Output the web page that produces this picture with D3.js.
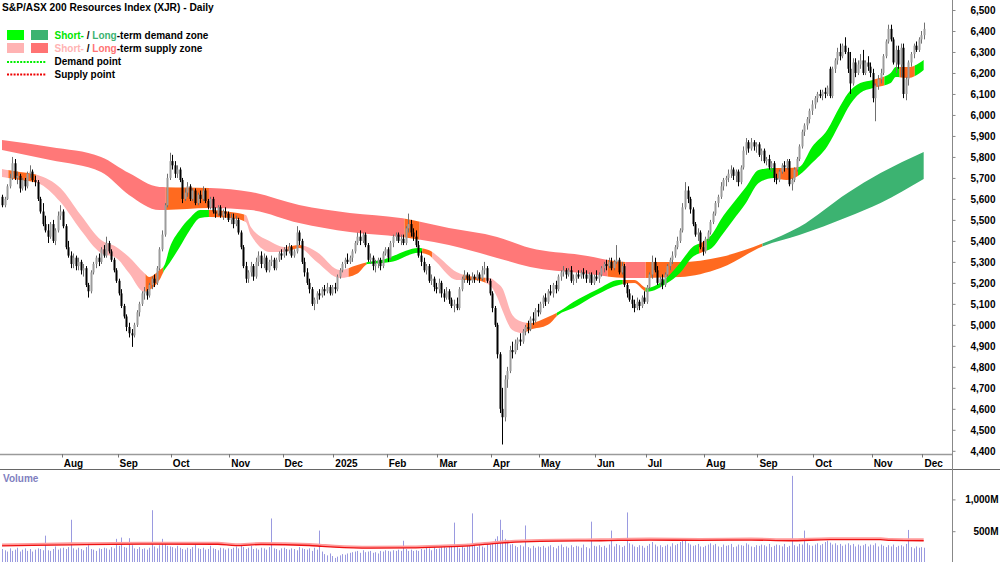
<!DOCTYPE html>
<html><head><meta charset="utf-8">
<script src="https://cdn.jsdelivr.net/npm/d3@7"></script>
<style>body{margin:0;background:#fff}svg{display:block;font-family:"Liberation Sans",Arial,sans-serif;font-weight:bold}</style>
</head><body><svg id="c" width="1000" height="562"></svg>
<script>
// ---------------- DATA ----------------
const title = "S&P/ASX 200 Resources Index (XJR) - Daily";
const firstDay = "2024-06-28", lastDay = "2025-12-01";
const holidays = ["2024-12-25","2024-12-26","2025-01-01","2025-01-27","2025-04-18","2025-04-21","2025-04-25","2025-06-09"];
const monthLabels = ["Aug","Sep","Oct","Nov","Dec","2025","Feb","Mar","Apr","May","Jun","Jul","Aug","Sep","Oct","Nov","Dec"];
const priceTicks = [4400,4500,4600,4700,4800,4900,5000,5100,5200,5300,5400,5500,5600,5700,5800,5900,6000,6100,6200,6300,6400,6500];
const volumeTicks = [500,1000];
// candles [open, high, low, close]
const jun24 = [[5610,5620,5560,5570]];
const jul24 = [[5570,5610,5560,5600],[5600,5670,5595,5660],[5660,5720,5650,5700],[5700,5800,5690,5770],[5770,5790,5690,5700],[5700,5730,5670,5710],[5710,5720,5630,5650],[5650,5700,5640,5690],[5690,5700,5640,5660],[5660,5730,5650,5720],[5720,5760,5700,5730],[5730,5740,5680,5690],[5690,5710,5660,5680],[5680,5690,5590,5600],[5600,5610,5530,5540],[5540,5580,5470,5480],[5480,5520,5440,5450],[5450,5480,5390,5420],[5420,5490,5410,5480],[5480,5500,5390,5400],[5400,5460,5380,5450],[5450,5540,5440,5520],[5520,5570,5500,5540]];
const aug24 = [[5540,5550,5460,5470],[5470,5480,5360,5370],[5370,5400,5320,5330],[5330,5350,5270,5290],[5290,5340,5270,5320],[5320,5330,5260,5280],[5280,5320,5260,5300],[5300,5310,5240,5260],[5260,5290,5230,5270],[5270,5280,5180,5190],[5190,5200,5130,5160],[5160,5260,5150,5250],[5250,5300,5240,5290],[5290,5330,5270,5320],[5320,5340,5280,5300],[5300,5370,5290,5360],[5360,5380,5320,5330],[5330,5420,5320,5390],[5390,5400,5340,5350],[5350,5360,5300,5310],[5310,5320,5250,5260],[5260,5270,5200,5210]];
const sep24 = [[5210,5220,5140,5150],[5150,5170,5080,5090],[5090,5100,5030,5040],[5040,5050,4970,4990],[4990,5010,4940,4960],[4960,4980,4895,4950],[4950,5010,4940,5000],[5000,5070,4990,5060],[5060,5110,5040,5100],[5100,5160,5090,5150],[5150,5180,5120,5160],[5160,5170,5120,5140],[5140,5200,5130,5190],[5190,5230,5170,5220],[5220,5240,5180,5200],[5200,5280,5190,5270],[5270,5370,5260,5360],[5360,5450,5350,5430],[5430,5580,5420,5570],[5570,5720,5560,5700],[5700,5820,5690,5780]];
const oct24 = [[5780,5810,5740,5760],[5760,5780,5700,5720],[5720,5760,5700,5740],[5740,5750,5680,5690],[5690,5700,5580,5600],[5600,5650,5590,5630],[5630,5680,5610,5660],[5660,5670,5590,5600],[5600,5650,5590,5640],[5640,5650,5570,5580],[5580,5630,5570,5620],[5620,5640,5580,5600],[5600,5660,5590,5640],[5640,5650,5580,5590],[5590,5600,5550,5560],[5560,5610,5550,5600],[5600,5610,5530,5540],[5540,5560,5510,5530],[5530,5570,5520,5560],[5560,5570,5510,5520],[5520,5550,5500,5540],[5540,5560,5510,5530],[5530,5540,5490,5500]];
const nov24 = [[5500,5530,5480,5510],[5510,5530,5460,5480],[5480,5520,5470,5500],[5500,5510,5430,5440],[5440,5450,5360,5370],[5370,5380,5270,5280],[5280,5300,5200,5220],[5220,5260,5200,5250],[5250,5300,5230,5280],[5280,5290,5210,5230],[5230,5320,5220,5300],[5300,5350,5280,5330],[5330,5350,5270,5290],[5290,5340,5270,5320],[5320,5330,5250,5260],[5260,5310,5250,5300],[5300,5330,5280,5310],[5310,5320,5260,5270],[5270,5320,5260,5310],[5310,5350,5300,5340],[5340,5360,5310,5330]];
const dec24 = [[5330,5370,5320,5360],[5360,5380,5330,5350],[5350,5390,5340,5370],[5370,5380,5320,5330],[5330,5360,5320,5350],[5350,5470,5340,5440],[5440,5450,5380,5400],[5400,5410,5290,5300],[5300,5320,5230,5250],[5250,5270,5190,5200],[5200,5220,5150,5170],[5170,5180,5090,5100],[5100,5130,5070,5120],[5120,5160,5100,5150],[5150,5170,5120,5140],[5140,5180,5130,5170],[5170,5190,5140,5160],[5160,5200,5150,5180],[5180,5190,5140,5150],[5150,5190,5140,5180]];
const jan25 = [[5180,5200,5150,5170],[5170,5240,5160,5230],[5230,5270,5220,5260],[5260,5300,5250,5290],[5290,5320,5270,5310],[5310,5340,5290,5300],[5300,5330,5290,5320],[5320,5360,5300,5350],[5350,5400,5340,5390],[5390,5440,5380,5420],[5420,5450,5380,5400],[5400,5440,5390,5430],[5430,5440,5370,5380],[5380,5390,5300,5310],[5310,5340,5290,5320],[5320,5330,5260,5280],[5280,5310,5250,5290],[5290,5320,5270,5310],[5310,5320,5260,5280],[5280,5350,5270,5340],[5340,5370,5330,5360]];
const feb25 = [[5360,5370,5300,5320],[5320,5400,5310,5390],[5390,5430,5370,5420],[5420,5440,5400,5430],[5430,5440,5390,5400],[5400,5430,5380,5410],[5410,5430,5380,5390],[5390,5470,5380,5460],[5460,5530,5440,5480],[5480,5500,5420,5440],[5440,5460,5400,5420],[5420,5450,5370,5380],[5380,5400,5320,5330],[5330,5350,5280,5300],[5300,5320,5250,5260],[5260,5290,5240,5280],[5280,5290,5200,5210],[5210,5240,5190,5220],[5220,5230,5160,5180],[5180,5200,5150,5170]];
const mar25 = [[5170,5220,5150,5200],[5200,5210,5130,5150],[5150,5170,5110,5130],[5130,5180,5120,5160],[5160,5170,5100,5120],[5120,5130,5080,5090],[5090,5120,5060,5100],[5100,5130,5070,5080],[5080,5180,5070,5170],[5170,5230,5160,5220],[5220,5260,5200,5240],[5240,5250,5200,5220],[5220,5240,5190,5210],[5210,5250,5200,5230],[5230,5240,5200,5220],[5220,5260,5210,5240],[5240,5250,5200,5220],[5220,5280,5210,5260],[5260,5300,5240,5270],[5270,5280,5200,5210],[5210,5220,5140,5150]];
const apr25 = [[5150,5160,5060,5080],[5080,5090,4990,5000],[5000,5010,4840,4860],[4860,4870,4580,4600],[4600,4700,4430,4560],[4560,4760,4540,4740],[4740,4800,4700,4780],[4780,4900,4770,4880],[4880,4920,4840,4870],[4870,4930,4860,4910],[4910,4940,4880,4930],[4930,4960,4900,4920],[4920,4980,4910,4970],[4970,5000,4950,4990],[4990,5020,4960,4980],[4980,5040,4970,5030],[5030,5060,5000,5020],[5020,5080,5010,5070],[5070,5100,5040,5060]];
const may25 = [[5060,5110,5050,5100],[5100,5140,5080,5130],[5130,5150,5090,5110],[5110,5170,5100,5160],[5160,5190,5140,5150],[5150,5200,5130,5190],[5190,5210,5150,5170],[5170,5240,5160,5230],[5230,5260,5210,5250],[5250,5280,5230,5260],[5260,5270,5220,5240],[5240,5270,5230,5260],[5260,5280,5200,5210],[5210,5240,5190,5220],[5220,5250,5200,5240],[5240,5260,5220,5230],[5230,5260,5220,5250],[5250,5270,5220,5240],[5240,5260,5200,5220],[5220,5250,5200,5240],[5240,5250,5190,5200],[5200,5240,5190,5230]];
const jun25 = [[5230,5260,5210,5220],[5220,5250,5200,5240],[5240,5280,5230,5270],[5270,5300,5250,5290],[5290,5310,5260,5280],[5280,5320,5270,5300],[5300,5320,5260,5270],[5270,5310,5260,5300],[5300,5380,5290,5310],[5310,5320,5240,5250],[5250,5300,5240,5280],[5280,5290,5180,5190],[5190,5200,5130,5150],[5150,5170,5110,5120],[5120,5140,5080,5100],[5100,5120,5060,5080],[5080,5130,5070,5110],[5110,5120,5070,5090],[5090,5140,5080,5130],[5130,5160,5100,5110]];
const jul25 = [[5110,5190,5100,5180],[5180,5250,5170,5240],[5240,5330,5220,5300],[5300,5320,5250,5260],[5260,5280,5190,5200],[5200,5230,5180,5220],[5220,5240,5170,5190],[5190,5250,5180,5240],[5240,5290,5230,5280],[5280,5320,5260,5310],[5310,5350,5290,5330],[5330,5380,5320,5370],[5370,5420,5360,5400],[5400,5460,5390,5450],[5450,5580,5440,5560],[5560,5680,5550,5640],[5640,5660,5580,5600],[5600,5610,5530,5550],[5550,5560,5470,5480],[5480,5490,5420,5430],[5430,5460,5400,5440],[5440,5450,5360,5370],[5370,5400,5330,5350]];
const aug25 = [[5350,5420,5340,5410],[5410,5450,5400,5440],[5440,5500,5430,5490],[5490,5540,5480,5530],[5530,5590,5520,5580],[5580,5620,5560,5610],[5610,5680,5600,5660],[5660,5700,5640,5690],[5690,5710,5660,5700],[5700,5740,5680,5720],[5720,5760,5700,5740],[5740,5750,5690,5710],[5710,5740,5680,5730],[5730,5740,5660,5680],[5680,5760,5670,5750],[5750,5850,5740,5830],[5830,5890,5810,5870],[5870,5880,5820,5840],[5840,5890,5830,5870],[5870,5880,5830,5850],[5850,5870,5820,5860]];
const sep25 = [[5860,5870,5800,5810],[5810,5840,5780,5830],[5830,5840,5770,5780],[5780,5800,5760,5790],[5790,5810,5740,5750],[5750,5780,5730,5770],[5770,5780,5680,5700],[5700,5720,5670,5690],[5690,5740,5680,5730],[5730,5770,5720,5760],[5760,5780,5730,5750],[5750,5790,5740,5780],[5780,5790,5660,5670],[5670,5700,5640,5690],[5690,5750,5680,5740],[5740,5800,5730,5790],[5790,5860,5780,5850],[5850,5930,5840,5920],[5920,5960,5900,5950],[5950,5990,5930,5980],[5980,6030,5960,6020],[6020,6070,6000,6050]];
const oct25 = [[6050,6090,6030,6080],[6080,6110,6060,6100],[6100,6120,6080,6090],[6090,6120,6070,6110],[6110,6130,6080,6100],[6100,6140,6090,6130],[6220,6230,6080,6090],[6090,6230,6080,6220],[6220,6270,6200,6260],[6260,6320,6240,6300],[6300,6340,6260,6280],[6280,6340,6270,6330],[6330,6370,6290,6300],[6300,6320,6200,6220],[6220,6300,6100,6150],[6150,6270,6140,6250],[6250,6270,6180,6200],[6200,6260,6190,6240],[6240,6290,6220,6260],[6260,6310,6190,6200],[6200,6260,6190,6250],[6250,6280,6210,6230],[6230,6250,6180,6200]];
const nov25 = [[6200,6220,6060,6080],[6080,6150,5970,6140],[6140,6190,6120,6170],[6170,6220,6150,6200],[6200,6290,6190,6280],[6280,6360,6270,6350],[6350,6430,6340,6410],[6410,6430,6350,6360],[6360,6370,6240,6250],[6250,6330,6200,6310],[6310,6330,6220,6240],[6240,6340,6180,6320],[6320,6340,6080,6100],[6100,6180,6070,6170],[6170,6260,6140,6250],[6250,6300,6230,6290],[6290,6340,6270,6330],[6330,6350,6300,6310],[6310,6370,6300,6360],[6360,6400,6340,6380]];
const dec25 = [[6380,6440,6360,6410]];
// volume, millions
const volJun24 = [220];
const volJul24 = [200,180,230,190,210,240,180,210,230,190,220,180,210,230,220,200,430,200,190,220,260,210,230];
const volAug24 = [240,220,250,680,230,210,240,220,200,250,280,220,210,190,230,220,240,230,210,250,230,380];
const volSep24 = [270,400,250,240,390,280,230,220,250,220,230,210,240,830,260,230,280,380,300,270,260];
const volOct24 = [250,230,270,240,220,210,240,220,250,290,230,220,240,210,220,270,230,220,200,240,230,210,230];
const volNov24 = [220,240,260,230,280,250,220,240,270,220,230,210,240,230,210,250,700,230,220,200,230];
const volDec24 = [240,220,210,230,220,200,250,230,220,210,230,190,240,210,510,180,140,120,150,110];
const volJan25 = [80,100,120,140,130,150,160,170,180,190,160,200,170,180,190,160,170,150,190,180,200];
const volFeb25 = [190,180,200,190,210,190,350,220,190,210,190,200,190,220,210,240,230,200,250,220];
const volMar25 = [230,250,270,240,260,280,635,250,230,260,240,300,290,780,270,250,280,260,240,300,290];
const volApr25 = [330,380,420,680,520,380,330,290,300,270,250,280,260,590,250,230,270,240,260];
const volMay25 = [250,270,240,260,280,250,230,270,290,250,260,240,280,250,270,260,240,290,250,230,650,270];
const volJun25 = [260,280,250,270,240,290,510,260,300,280,250,270,795,310,290,260,250,280,270,240];
const volJul25 = [270,300,330,290,260,280,250,270,290,260,310,280,300,330,370,350,310,290,270,280,300,260,250];
const volAug25 = [270,290,310,280,300,260,250,290,270,280,300,250,260,290,280,270,310,290,260,250,280];
const volSep25 = [270,290,280,260,300,250,270,290,280,260,300,250,270,1370,280,260,300,290,510,310,280,270];
const volOct25 = [290,310,280,300,330,350,320,290,310,280,300,270,290,310,280,300,260,290,270,280,300,260,290];
const volNov25 = [280,310,260,290,270,250,280,260,290,250,270,280,260,300,520,250,230,260,240,250];
const volDec25 = [240];
// volume moving average samples [day index, millions]
const volAvg = [[0,270],[27,286],[58,297],[85,295],[92,272],[102,291],[121,275],[126,262],[131,250],[145,234],[161,238],[172,250],[184,270],[196,313],[212,339],[236,350],[255,361],[275,355],[295,361],[310,350],[326,366],[346,366],[350,355],[363,350]];
// zones: samples [day index, upper, lower]; segments [from, to, state]
const longZone = [[0,5881,5833],[19,5847,5785],[39,5800,5728],[50,5723,5619],[62,5657,5547],[82,5652,5557],[98,5633,5547],[117,5571,5485],[137,5533,5442],[157,5509,5419],[176,5461,5380],[195,5419,5319],[208,5366,5276],[228,5333,5247],[247,5299,5223],[267,5299,5228],[283,5323,5271],[300,5390,5376],[314,5466,5428],[333,5628,5514],[346,5723,5581],[363,5824,5695]];
const longStates = [[0,65,"S"],[65,82,"N"],[82,159,"S"],[159,165,"N"],[165,239,"S"],[239,246,"N"],[246,254,"S"],[254,300,"N"],[300,364,"D"]];
const shortZone = [[0,5743,5704],[7,5728,5690],[14,5714,5676],[23,5652,5585],[31,5523,5452],[39,5404,5342],[45,5371,5319],[50,5323,5247],[56,5247,5157],[58,5228,5166],[62,5261,5214],[64,5285,5261],[66,5366,5295],[70,5452,5371],[74,5509,5452],[78,5547,5509],[82,5547,5514],[90,5538,5509],[96,5523,5490],[98,5466,5428],[106,5395,5347],[111,5371,5347],[117,5380,5366],[124,5347,5299],[133,5261,5223],[140,5285,5245],[144,5299,5290],[150,5310,5295],[153,5323,5299],[164,5366,5343],[168,5357,5333],[171,5333,5299],[179,5252,5214],[186,5228,5214],[192,5223,5190],[195,5200,5133],[197,5176,5071],[201,5047,4976],[205,5014,4961],[208,5009,4976],[215,5038,5000],[219,5061,5047],[225,5109,5080],[234,5166,5142],[243,5214,5190],[249,5214,5199],[254,5176,5157],[262,5228,5199],[267,5295,5247],[272,5371,5323],[276,5395,5347],[280,5438,5371],[283,5500,5419],[288,5581,5500],[293,5657,5581],[298,5738,5676],[304,5747,5700],[309,5747,5690],[314,5752,5714],[319,5847,5771],[325,5928,5850],[330,6040,5960],[333,6100,6030],[338,6152,6105],[343,6167,6128],[350,6200,6152],[352,6228,6181],[357,6228,6176],[363,6262,6214]];
const shortStates = [[0,3,"S"],[3,14,"N"],[14,57,"S"],[57,64,"N"],[64,82,"D"],[82,96,"N"],[96,113,"S"],[113,119,"N"],[119,137,"S"],[137,144,"N"],[144,166,"D"],[166,170,"N"],[170,182,"S"],[182,191,"N"],[191,207,"S"],[207,219,"N"],[219,245,"D"],[245,254,"N"],[254,275,"D"],[275,278,"N"],[278,305,"D"],[305,314,"N"],[314,344,"D"],[344,348,"N"],[348,354,"D"],[354,360,"N"],[360,364,"D"]];

// ---------------- BUILD ----------------
const candles = [].concat(jun24,jul24,aug24,sep24,oct24,nov24,dec24,jan25,feb25,mar25,apr25,may25,jun25,jul25,aug25,sep25,oct25,nov25,dec25);
const volume = [].concat(volJun24,volJul24,volAug24,volSep24,volOct24,volNov24,volDec24,volJan25,volFeb25,volMar25,volApr25,volMay25,volJun25,volJul25,volAug25,volSep25,volOct25,volNov25,volDec25);
const fmt = d3.timeFormat("%Y-%m-%d");
const parse = d3.timeParse("%Y-%m-%d");
const days = d3.timeDays(parse(firstDay), d3.timeDay.offset(parse(lastDay), 1))
  .filter(d => d.getDay() !== 0 && d.getDay() !== 6 && !holidays.includes(fmt(d)));
const N = days.length;

const svg = d3.select("#c");
const defs = svg.append("defs");
const xl = d3.scaleLinear().domain([0, N]).range([0.76, 0.76 + N * 2.539]);
const cx = i => xl(i + 0.5);
const y = d3.scaleLinear().domain([4400, 6500]).range([450.8, 10]);
const vy = d3.scaleLinear().domain([0, 1000]).range([563, 499.4]);
const AX = 952.5;

const COLORS = {
  long: {S: "#ff7878", N: "#ff6a1f", D: "#3cb371"},
  short: {S: "#ffb3b3", N: "#ff6a1f", D: "#00f000"}
};

function drawZone(samples, states, pal, key) {
  const area = d3.area().curve(d3.curveMonotoneX)
    .x(d => cx(d[0])).y0(d => y(d[2])).y1(d => y(d[1]));
  const g = svg.append("g");
  states.forEach((s, k) => {
    const id = key + k;
    const x0 = k === 0 ? 0 : xl(s[0]);
    const x1 = xl(s[1]) + (k === states.length - 1 ? 5 : 0);
    defs.append("clipPath").attr("id", id).append("rect")
      .attr("x", x0).attr("y", 0).attr("width", x1 - x0).attr("height", 470);
    g.append("path").datum(samples).attr("d", area)
      .attr("fill", pal[s[2]]).attr("clip-path", `url(#${id})`);
  });
}
drawZone(longZone, longStates, COLORS.long, "lz");
drawZone(shortZone, shortStates, COLORS.short, "sz");

// candles
const cg = svg.append("g");
candles.forEach((c, i) => {
  const [o, h, l, cl] = c;
  const up = cl >= o;
  const xc = Math.round(cx(i)) + 0.5;
  cg.append("line").attr("x1", xc).attr("x2", xc).attr("y1", y(h)).attr("y2", y(l))
    .attr("stroke", up ? "#707070" : "#000").attr("stroke-width", 1);
  const top = y(Math.max(o, cl)), bot = y(Math.min(o, cl));
  cg.append("rect").attr("x", xc - 1).attr("y", top).attr("width", 2).attr("height", Math.max(1, bot - top))
    .attr("fill", up ? "#9c9c9c" : "#000");
});

// axes lines
svg.append("line").attr("x1", 0).attr("x2", AX).attr("y1", 454.5).attr("y2", 454.5).attr("stroke", "#9a9a9a").attr("stroke-width", 1.5);
svg.append("line").attr("x1", 0).attr("x2", 1000).attr("y1", 469.5).attr("y2", 469.5).attr("stroke", "#666").attr("stroke-width", 1);
svg.append("line").attr("x1", AX).attr("x2", AX).attr("y1", 0).attr("y2", 562).attr("stroke", "#888").attr("stroke-width", 1);

// price axis
const yAxis = d3.axisRight(y).tickValues(priceTicks).tickSize(3).tickFormat(d3.format(","));
const ya = svg.append("g").attr("transform", `translate(${AX},0)`).call(yAxis);
ya.select(".domain").remove();
ya.selectAll(".tick line").attr("stroke", "#888");
ya.selectAll(".tick text").attr("x", 43).attr("text-anchor", "end").attr("font-size", 10).attr("font-family", "Liberation Sans, Arial").attr("font-weight", "bold").attr("fill", "#000");

// volume axis
const vAxis = d3.axisRight(vy).tickValues(volumeTicks).tickSize(3).tickFormat(d => d3.format(",")(d) + "M");
const va = svg.append("g").attr("transform", `translate(${AX},0)`).call(vAxis);
va.select(".domain").remove();
va.selectAll(".tick line").attr("stroke", "#888");
va.selectAll(".tick text").attr("x", 46).attr("text-anchor", "end").attr("font-size", 10).attr("font-family", "Liberation Sans, Arial").attr("font-weight", "bold").attr("fill", "#000");

// month ticks (first visible month boundary, July 2024, is unlabelled)
const monthStarts = [];
days.forEach((d, i) => { if (i > 10 && d.getMonth() !== days[i - 1].getMonth()) monthStarts.push(i); });
const mg = svg.append("g");
monthStarts.forEach((i, k) => {
  const xx = Math.round(xl(i)) + 0.5;
  mg.append("line").attr("x1", xx).attr("x2", xx).attr("y1", 454).attr("y2", 457.5).attr("stroke", "#777");
  mg.append("text").attr("x", xl(i) + 2).attr("y", 466.5).attr("font-size", 10).text(monthLabels[k]);
});

// volume bars
const vg = svg.append("g");
volume.forEach((v, i) => {
  const xc = Math.round(cx(i)) + 0.5;
  vg.append("line").attr("x1", xc).attr("x2", xc).attr("y1", vy(0)).attr("y2", vy(v)).attr("stroke", "#9a9ae0").attr("stroke-width", 1);
});
const vline = d3.line().curve(d3.curveMonotoneX).x(d => cx(d[0])).y(d => vy(d[1]));
svg.append("path").datum(volAvg).attr("d", vline).attr("fill", "none").attr("stroke", "#ff9a9a").attr("stroke-width", 2.5).attr("transform", "translate(0,-1.2)");
svg.append("path").datum(volAvg).attr("d", vline).attr("fill", "none").attr("stroke", "#ee1111").attr("stroke-width", 1.3);
svg.append("text").attr("x", 3).attr("y", 482).attr("font-size", 10).attr("fill", "#7f7fc0").text("Volume");

// title & legend
svg.append("text").attr("x", 2).attr("y", 10.5).attr("font-size", 10.2).attr("fill", "#000").text(title);
const lg = svg.append("g");
[["#00ff00", "#3cb371", 30], ["#ffb3b3", "#ff7373", 43]].forEach(r => {
  lg.append("rect").attr("x", 7).attr("y", r[2]).attr("width", 17).attr("height", 10).attr("fill", r[0]);
  lg.append("rect").attr("x", 31).attr("y", r[2]).attr("width", 17).attr("height", 10).attr("fill", r[1]);
});
function legendText(yy, parts) {
  const t = lg.append("text").attr("x", 54.5).attr("y", yy).attr("font-size", 10);
  parts.forEach(p => t.append("tspan").attr("fill", p[1]).text(p[0]));
}
legendText(38.7, [["Short-", "#00e600"], [" / ", "#000"], ["Long", "#3cb371"], ["-term demand zone", "#000"]]);
legendText(52, [["Short-", "#ffb3b3"], [" / ", "#000"], ["Long", "#ff7373"], ["-term supply zone", "#000"]]);
legendText(65.3, [["Demand point", "#000"]]);
legendText(78, [["Supply point", "#000"]]);
lg.append("line").attr("x1", 7).attr("x2", 46).attr("y1", 62).attr("y2", 62).attr("stroke", "#00ee00").attr("stroke-width", 2).attr("stroke-dasharray", "2,1.3");
lg.append("line").attr("x1", 7).attr("x2", 46).attr("y1", 74.5).attr("y2", 74.5).attr("stroke", "#ee0000").attr("stroke-width", 2).attr("stroke-dasharray", "2,1.3");
</script></body></html>
